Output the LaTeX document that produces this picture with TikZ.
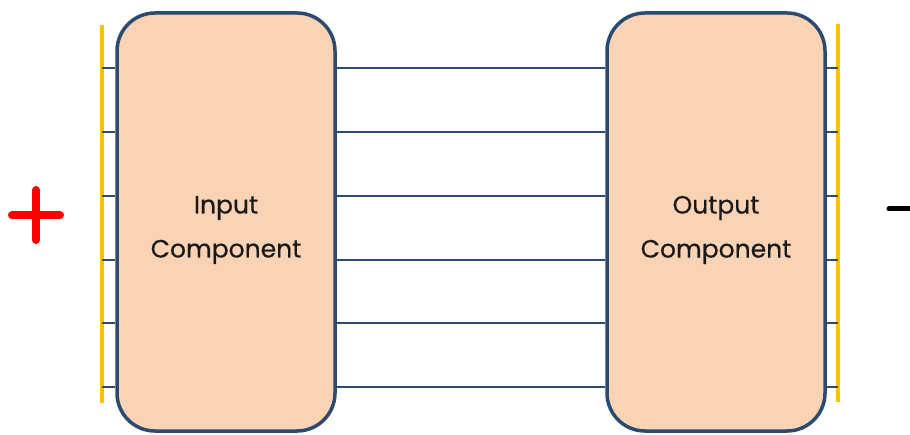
\documentclass[tikz,border=0pt]{standalone}
\usepackage{fontspec}
\setmainfont{Poppins}[FakeBold=0.4]
\definecolor{peach}{HTML}{F9D3B3}
\definecolor{navy}{HTML}{2B4A6F}
\definecolor{gold}{HTML}{FFC000}
\begin{document}
\begin{tikzpicture}[x=1pt,y=-1pt,
  comp/.style={draw=navy, line width=3.5pt, fill=peach, rounded corners=38pt,
    minimum width=218pt, minimum height=418pt},
  caption/.style={align=center, font=\fontsize{25}{44}\selectfont,
    text=black!90, inner sep=0pt},
  wire/.style={draw=navy, line width=1.4pt},
  rail/.style={draw=gold, line width=4pt}]
\useasboundingbox (0,0) rectangle (910,435);
% the two components
\node[comp] (in) at (226,222) {};
\node[comp] (out) at (716,222) {};
\node[caption] (intext) at (226,230) {Input\\Component};
\node[caption] (outtext) at (716,230) {Output\\Component};
% gold terminal rails
\coordinate (lt) at (102,25); \coordinate (lb) at (102,403);
\coordinate (rt) at (838,24); \coordinate (rb) at (838,402);
\draw[rail] (lt) -- (lb);
\draw[rail] (rt) -- (rb);
% parallel wires with their terminal ticks
\foreach \i/\y in {1/68,2/132,3/196,4/260,5/323,6/387}{
  \coordinate (a\i) at (102,\y);
  \coordinate (b\i) at (838,\y);
  \draw[wire] (a\i) -- (a\i -| in.west);
  \draw[wire] (in.east |- a\i) -- (out.west |- a\i);
  \draw[wire] (out.east |- b\i) -- (b\i);
}
% polarity signs
\node[inner sep=0pt] (plus) at (36,215) {};
\draw[red, line width=8pt, line cap=round] ([xshift=-24pt]plus.center) -- ([xshift=24pt]plus.center);
\draw[red, line width=8pt, line cap=round] ([yshift=-25pt]plus.center) -- ([yshift=25pt]plus.center);
\node[inner sep=0pt] (minus) at (905,209) {};
\draw[black, line width=5pt, line cap=round] ([xshift=-16pt]minus.center) -- ([xshift=12pt]minus.center);
\end{tikzpicture}
\end{document}
